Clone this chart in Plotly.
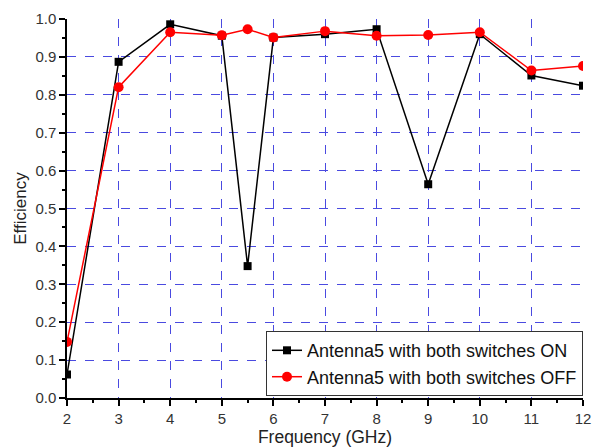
import plotly.graph_objects as go

freq = [2, 3, 4, 5, 5.5, 6, 7, 8, 9, 10, 11, 12]
eff_on = [0.062, 0.887, 0.986, 0.956, 0.348, 0.951, 0.960, 0.973, 0.564, 0.960, 0.851, 0.824]
eff_off = [0.148, 0.820, 0.965, 0.957, 0.973, 0.951, 0.968, 0.956, 0.958, 0.965, 0.864, 0.876]
x_ticks = [2, 3, 4, 5, 6, 7, 8, 9, 10, 11, 12]
y_ticks = [0.0, 0.1, 0.2, 0.3, 0.4, 0.5, 0.6, 0.7, 0.8, 0.9, 1.0]

fig = go.Figure()
fig.add_trace(go.Scatter(
    x=freq, y=eff_on, mode="lines+markers", name="Antenna5 with both switches ON",
    line=dict(color="black", width=1.5),
    marker=dict(symbol="square", size=8, color="black"),
))
fig.add_trace(go.Scatter(
    x=freq, y=eff_off, mode="lines+markers", name="Antenna5 with both switches OFF",
    line=dict(color="#ff0000", width=1.5),
    marker=dict(symbol="circle", size=10, color="#ff0000"),
))

grid_color = "#4a4ae0"
fig.update_xaxes(
    range=[2, 12], tickvals=x_ticks, ticktext=[str(v) for v in x_ticks],
    showline=True, linecolor="black", linewidth=1.5,
    ticks="outside", ticklen=6, tickwidth=1.5, tickcolor="black",
    minor=dict(dtick=0.5, ticks="outside", ticklen=3, tickcolor="black", showgrid=False),
    showgrid=True, gridcolor=grid_color, griddash="dash", gridwidth=1.2,
    zeroline=False, mirror=False, automargin=False,
    title=dict(text="Frequency (GHz)", standoff=2, font=dict(size=17.5, color="#222")),
    tickfont=dict(size=15, color="#333"),
)
fig.update_yaxes(
    range=[0, 1.0], tickvals=y_ticks, ticktext=[f"{v:.1f}" for v in y_ticks],
    showline=True, linecolor="black", linewidth=1.5,
    ticks="outside", ticklen=6, tickwidth=1.5, tickcolor="black",
    minor=dict(dtick=0.05, ticks="outside", ticklen=3, tickcolor="black", showgrid=False),
    showgrid=True, gridcolor=grid_color, griddash="dash", gridwidth=1.2,
    zeroline=False, mirror=False, automargin=False,
    title=dict(text="Efficiency", standoff=4, font=dict(size=17, color="#222")),
    tickfont=dict(size=15, color="#333"),
)

fig.update_layout(
    width=597, height=447,
    margin=dict(l=67, r=14, t=19, b=49),
    paper_bgcolor="white", plot_bgcolor="white",
    font=dict(family="Liberation Sans, Arial, sans-serif", color="#222"),
    showlegend=True,
    legend=dict(
        x=1, xanchor="right", y=0.005, yanchor="bottom",
        bgcolor="white", bordercolor="#333", borderwidth=1,
        font=dict(size=18, color="#111"),
        tracegroupgap=0, itemsizing="trace",
    ),
)

fig.write_html("out.html")
